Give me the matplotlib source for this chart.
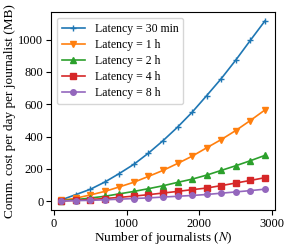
import numpy as np
import matplotlib
matplotlib.use('Agg')
import matplotlib.pyplot as plt

plt.rcParams['font.family'] = ['Liberation Serif', 'DejaVu Serif']
plt.rcParams['mathtext.fontset'] = 'stix'

journalists = [100, 300, 500, 700, 900, 1100, 1300, 1500, 1700, 1900, 2100, 2300, 2500, 2700, 2900]

cost_30min = [7, 40, 73, 118, 171, 228, 297, 374, 458, 550, 653, 758, 873, 995, 1115]
cost_1h = [4, 18, 38, 60, 88, 117, 153, 190, 233, 278, 330, 381, 437, 499, 564]
cost_2h = [2, 9, 19, 30, 45, 60, 77, 95, 116, 136, 161, 190, 219, 250, 283]
cost_4h = [1, 5, 10, 16, 23, 31, 40, 50, 60, 71, 81, 96, 112, 128, 145]
cost_8h = [1, 3, 5, 8, 12, 16, 20, 25, 30, 35, 41, 49, 57, 65, 74]

labels = ['Latency = 30 min', 'Latency = 1 h', 'Latency = 2 h', 'Latency = 4 h', 'Latency = 8 h']
markers = ['+', 'v', '^', 's', 'o']
series = [cost_30min, cost_1h, cost_2h, cost_4h, cost_8h]

fig = plt.figure(figsize=(2.91, 2.47), dpi=100)
ax = fig.add_axes([0.175, 0.150, 0.770, 0.801])

for ys, lab, mk in zip(series, labels, markers):
	ax.plot(journalists, ys, marker=mk, markersize=4, linewidth=1.2, label=lab)

ax.set_xlabel(r'Number of journalists ($N$)', fontsize=9.5, labelpad=0.5)
ax.set_ylabel('Comm. cost per day per journalist (MB)', fontsize=9.5, labelpad=2)
ax.tick_params(labelsize=9, pad=2)
ax.legend(loc='upper left', fontsize=8.5, labelspacing=0.35)

plt.savefig('out.png')
